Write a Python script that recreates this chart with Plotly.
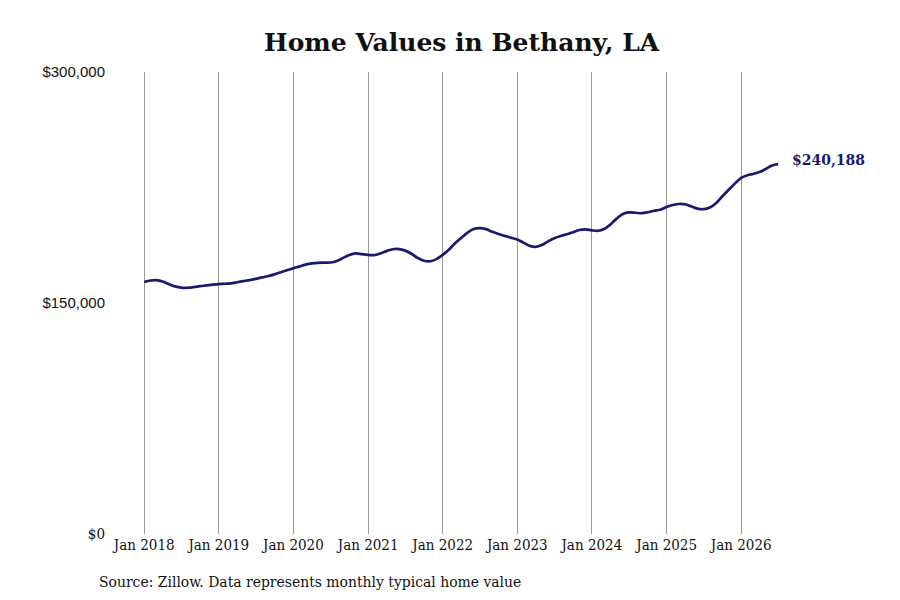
import plotly.graph_objects as go
import pandas as pd

# monthly typical home value, Jan 2018 - Jul 2026 (thousands $)
dates = pd.date_range("2018-01-01", "2026-07-01", freq="MS")
vals_2018 = [163.6, 164.6, 164.9, 164.0, 162.3, 160.8, 160.0, 159.9, 160.3, 160.9, 161.4, 161.9]
vals_2019 = [162.3, 162.5, 162.8, 163.5, 164.2, 164.9, 165.7, 166.6, 167.5, 168.6, 170.0, 171.3]
vals_2020 = [172.5, 173.8, 174.9, 175.7, 176.1, 176.2, 176.3, 177.3, 179.3, 181.2, 182.2, 181.7]
vals_2021 = [181.2, 181.1, 182.2, 183.7, 184.9, 185.0, 184.0, 182.0, 179.2, 177.4, 177.1, 178.5]
vals_2022 = [181.2, 184.7, 188.6, 192.2, 195.6, 198.0, 198.6, 198.0, 196.2, 194.8, 193.6, 192.4]
vals_2023 = [191.2, 189.2, 187.2, 186.5, 187.6, 190.0, 192.0, 193.5, 194.6, 196.0, 197.4, 197.8]
vals_2024 = [197.2, 196.9, 198.0, 201.0, 204.8, 207.8, 208.8, 208.6, 208.3, 208.9, 209.9, 210.6]
vals_2025 = [212.3, 213.6, 214.3, 214.1, 212.8, 211.3, 210.9, 212.0, 215.0, 219.3, 223.5, 227.5]
vals_2026 = [231.3, 233.0, 233.8, 235.0, 237.0, 239.3, 240.188]

values = [v * 1000 for v in (vals_2018 + vals_2019 + vals_2020 + vals_2021 + vals_2022
                             + vals_2023 + vals_2024 + vals_2025 + vals_2026)]

x_ticks = [f"{y}-01-01" for y in range(2018, 2027)]
x_labels = [f"Jan {y}" for y in range(2018, 2027)]
y_ticks = [0, 150000, 300000]
y_labels = ['<span style="font-family:DejaVu Serif Condensed">$0</span>', "$150,000", "$300,000"]

serif = "DejaVu Serif Condensed, DejaVu Serif, serif"
navy = "#191970"

fig = go.Figure()
fig.add_trace(go.Scatter(x=dates, y=values, mode="lines",
                         line=dict(color=navy, width=2.7, shape="spline"),
                         hoverinfo="skip"))

fig.add_annotation(x=dates[-1], y=values[-1], text=f"<b>${values[-1]:,.0f}</b>",
                   showarrow=False, xanchor="left", xshift=12, yshift=4,
                   font=dict(family="DejaVu Serif", size=14, color=navy))

fig.add_annotation(xref="paper", yref="paper", x=-0.027, y=-0.104,
                   text="Source: Zillow. Data represents monthly typical home value",
                   showarrow=False, xanchor="left", yanchor="middle",
                   font=dict(family=serif, size=15.5, color="#111111"))

fig.update_layout(
    width=900, height=600,
    margin=dict(l=107, r=118, t=64, b=74),
    paper_bgcolor="white", plot_bgcolor="white",
    showlegend=False,
    title=dict(text="<b>Home Values in Bethany, LA</b>", x=0.504, xanchor="center",
               y=0.943, yanchor="middle",
               font=dict(family="DejaVu Serif", size=25, color="#111111")),
    xaxis=dict(range=["2017-08-11", "2026-08-28"], tickvals=x_ticks, ticktext=x_labels,
               showgrid=True, gridcolor="#999999", gridwidth=1, zeroline=False,
               showline=False, ticks="", tickfont=dict(family=serif, size=15, color="#111111")),
    yaxis=dict(range=[0, 300000], tickvals=y_ticks, ticktext=y_labels,
               showgrid=False, zeroline=False, showline=False, ticks="", ticklabelstandoff=9,
               tickfont=dict(family="Liberation Sans, Arial, sans-serif", size=15, color="#111111")),
)

fig.write_html("out.html")
